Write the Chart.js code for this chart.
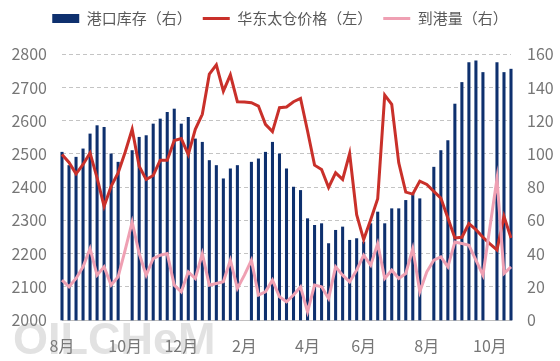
<!DOCTYPE html>
<html>
<head>
<meta charset="utf-8">
<script src="https://cdn.jsdelivr.net/npm/chart.js@4.4.1/dist/chart.umd.min.js"></script>
<style>
html,body{margin:0;padding:0;background:#fff;}
</style>
</head>
<body>
<canvas id="portChart" width="560" height="361"></canvas>
<script>
// weekly data, 65 weeks
const stock=[101,93,98,103,112,117,116,100,95,null,102,110,111,118,121,125,127,118,122,109,
    107,96,93,85,91,93,null,95,97,101,107,100,91,80,78,61,57,58,46,54,
    56,48,49,47,58,65,58,67,67,72,76,73,null,92,102,108,130,143,155,156,
    149,null,155,149,151];
const price=[2498,2474,2440,2468,2503,2428,2342,2402,2443,2505,2574,2463,2423,2435,2481,2481,2540,
    2546,2498,2574,2619,2740,2768,2689,2738,2657,2656,2654,2644,2589,2567,2639,2641,
    2657,2667,2569,2466,2453,2399,2443,2423,2501,2317,2242,2302,2365,2677,2649,2473,
    2385,2379,2418,2408,2387,2367,2307,2247,2249,2290,2272,2249,2229,2211,2312,2247];
const arrivals=[24,20,25,32,43,27,32,21,26,42,59,40,27,37,39,40,21,
    17,29,25,40,21,22,23,36,19,27,36,15,17,24,14,11,
    15,20,5,21,20,13,32,27,23,30,39,33,46,25,30,25,
    28,43,17,29,36,38,32,47,46,45,36,27,56,85,28,32];
const weeks=stock.map((_,i)=>i);
const tickIndex=[0,9,17,26,35,43,52,61];
const tickLabels=['8月','10月','12月','2月','4月','6月','8月','10月'];

Chart.defaults.font.family='"Noto Sans CJK SC","Noto Sans",sans-serif';

const watermark={
    id:'watermark',
    beforeDatasetsDraw(chart){
        const c=chart.ctx;
        c.save();
        c.font='bold 45px "Liberation Sans"';
        c.fillStyle='rgba(140,140,140,0.25)';
        c.fillText('OILCHeM',13,342);
        c.restore();
    }
};

const ctx=document.getElementById('portChart').getContext('2d');
new Chart(ctx,{
    data:{
        labels:weeks,
        datasets:[{
            type:'bar',
            label:'港口库存（右）',
            data:stock,
            yAxisID:'yR',
            backgroundColor:'#0e306e',
            barThickness:2.4,
            order:3,
            clip:false
        },{
            type:'line',
            label:'华东太仓价格（左）',
            data:price,
            yAxisID:'yL',
            borderColor:'#c9302a',
            borderWidth:3,
            pointRadius:0,
            tension:0,
            order:2
        },{
            type:'line',
            label:'到港量（右）',
            data:arrivals,
            yAxisID:'yR',
            borderColor:'#efa0b3',
            borderWidth:3,
            pointRadius:0,
            tension:0,
            order:1
        }]
    },
    options:{
        responsive:false,
        animation:false,
        layout:{padding:{top:0}},
        plugins:{
            tooltip:{enabled:false},
            // empty title used as a spacer under the legend
            title:{display:true,text:'',weight:500,font:{size:1},padding:{top:0,bottom:17}},
            legend:{
                position:'top',
                labels:{
                    usePointStyle:true,
                    pointStyleWidth:27,
                    boxHeight:9,
                    padding:11,
                    color:'#595959',
                    font:{size:15},
                    sort:(a,b)=>a.datasetIndex-b.datasetIndex,
                    generateLabels(chart){
                        const items=Chart.defaults.plugins.legend.labels.generateLabels(chart);
                        items.forEach(it=>{
                            const ds=chart.data.datasets[it.datasetIndex];
                            if(ds.type==='line'){
                                it.pointStyle='line';
                                it.strokeStyle=ds.borderColor;
                                it.lineWidth=3;
                            }else{
                                it.pointStyle='rect';
                                it.fillStyle=ds.backgroundColor;
                                it.lineWidth=0;
                            }
                        });
                        return items;
                    }
                }
            }
        },
        scales:{
            x:{
                offset:false,
                grid:{display:false,drawTicks:false},
                border:{display:true,color:'#bfbfbf'},
                ticks:{
                    autoSkip:false,
                    maxRotation:0,
                    padding:16,
                    color:'#767676',
                    font:{size:16},
                    callback:(v,i)=>tickLabels[i]
                },
                afterBuildTicks:s=>{s.ticks=tickIndex.map(v=>({value:v}));},
                afterFit:s=>{s.height=41;}
            },
            yL:{
                position:'left',
                min:2000,
                max:2800,
                ticks:{stepSize:100,padding:15,color:'#767676',font:{size:16},callback:v=>v},
                grid:{color:'#c4c4c4',drawTicks:false},
                border:{display:false,dash:[4,3]},
                afterFit:s=>{s.width=62;}
            },
            yR:{
                position:'right',
                min:0,
                max:160,
                ticks:{stepSize:20,padding:16,color:'#767676',font:{size:16}},
                grid:{display:false,drawTicks:false},
                border:{display:false},
                afterFit:s=>{s.width=49;}
            }
        }
    },
    plugins:[watermark]
});
</script>
</body>
</html>
